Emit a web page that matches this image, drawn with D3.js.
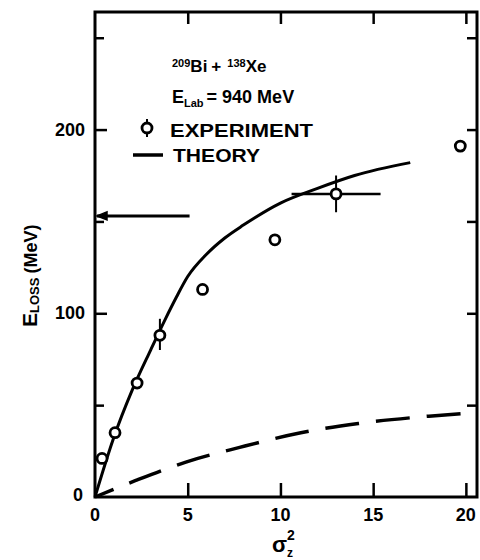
<!DOCTYPE html>
<html>
<head>
<meta charset="utf-8">
<script src="https://cdn.jsdelivr.net/npm/d3@7"></script>
<style>
  html, body { margin: 0; padding: 0; background: #fff; }
  svg { display: block; }
  text { font-family: "Liberation Sans", "DejaVu Sans", sans-serif; font-weight: bold; fill: #000; }
</style>
</head>
<body>
<svg id="chart" width="480" height="560"></svg>
<script>
// Energy loss vs. variance of the charge distribution, 209Bi + 136Xe at 940 MeV
const expSigma2 = [0.38, 1.08, 2.27, 3.5, 5.8, 9.7, 13.0, 19.7];
const expEloss  = [21, 35, 62, 88, 113, 140, 165, 191];
// error bars: [sigma2 low, sigma2 high, Eloss low, Eloss high] (null where absent)
const expErrors = [null, null, null, [3.5, 3.5, 80, 97], null, null, [10.6, 15.4, 155, 175], null];

const theorySigma2 = [0, 1, 2, 3, 3.8, 4.4, 5, 6, 7, 8, 10, 12, 14, 17];
const theoryEloss  = [0, 32, 58, 80, 97, 109, 120, 132, 141, 148, 160, 168, 175, 182];

const dashSigma2 = [0, 2.2, 4.9, 7.8, 11.1, 14.2, 18, 20.6];
const dashEloss  = [0, 9, 19, 27, 35, 40, 44, 46];

const arrowEloss = 153;
const arrowSigma2 = [0, 5.1];

const xTicks = [0, 5, 10, 15, 20];
const yMajor = [0, 100, 200];
const yMinor = [50, 150, 250];

const svg = d3.select("#chart");
const x = d3.scaleLinear().domain([0, 20.6]).range([95, 477]);
const y = d3.scaleLinear().domain([0, 264]).range([497, 12]);

const g = svg.append("g");

// frame
g.append("rect")
  .attr("x", x(0)).attr("y", y(264))
  .attr("width", x(20.6) - x(0)).attr("height", y(0) - y(264))
  .attr("fill", "none").attr("stroke", "#000").attr("stroke-width", 3);

function styleAxis(sel) {
  sel.select(".domain").remove();
  sel.selectAll("line").attr("stroke", "#000").attr("stroke-width", 2.5);
}

// bottom axis with inward ticks
g.append("g").attr("transform", `translate(0,${y(0)})`)
  .call(d3.axisBottom(x).tickValues(xTicks.filter(d => d > 0)).tickSizeInner(-14).tickSizeOuter(0).tickFormat(""))
  .call(styleAxis);

// x tick labels
g.append("g").selectAll("text").data(xTicks).join("text")
  .attr("x", d => x(d)).attr("y", y(0) + 24)
  .attr("text-anchor", "middle").attr("font-size", 18)
  .text(d => d);

// top axis
g.append("g").attr("transform", `translate(0,${y(264)})`)
  .call(d3.axisTop(x).tickValues(xTicks.filter(d => d > 0)).tickSizeInner(-12).tickSizeOuter(0).tickFormat(""))
  .call(styleAxis);

// left axis, major and minor ticks
g.append("g").attr("transform", `translate(${x(0)},0)`)
  .call(d3.axisLeft(y).tickValues(yMajor.filter(d => d > 0)).tickSizeInner(-12).tickSizeOuter(0).tickFormat(""))
  .call(styleAxis);
g.append("g").attr("transform", `translate(${x(0)},0)`)
  .call(d3.axisLeft(y).tickValues(yMinor).tickSizeInner(-9).tickSizeOuter(0).tickFormat(""))
  .call(styleAxis);

// y tick labels
g.append("g").selectAll("text").data(yMajor).join("text")
  .attr("x", d => d === 0 ? x(0) - 12 : x(0) - 10)
  .attr("y", d => y(d) + 6 - (d === 0 ? 2 : 0))
  .attr("text-anchor", "end").attr("font-size", 18)
  .text(d => d);

// right axis
g.append("g").attr("transform", `translate(${x(20.6)},0)`)
  .call(d3.axisRight(y).tickValues(yMajor.filter(d => d > 0).concat(yMinor)).tickSizeInner(-10).tickSizeOuter(0).tickFormat(""))
  .call(styleAxis);

// theory (solid)
const line = d3.line().x(d => x(d[0])).y(d => y(d[1])).curve(d3.curveMonotoneX);
g.append("path")
  .datum(d3.zip(theorySigma2, theoryEloss))
  .attr("d", line).attr("fill", "none").attr("stroke", "#000").attr("stroke-width", 3);

// dashed curve
g.append("path")
  .datum(d3.zip(dashSigma2, dashEloss))
  .attr("d", line).attr("fill", "none").attr("stroke", "#000").attr("stroke-width", 3.5)
  .attr("stroke-dasharray", "34,17").attr("stroke-dashoffset", 14);

// arrow at the left axis
g.append("line")
  .attr("x1", x(arrowSigma2[0]) + 2).attr("x2", x(arrowSigma2[1]))
  .attr("y1", y(arrowEloss)).attr("y2", y(arrowEloss))
  .attr("stroke", "#000").attr("stroke-width", 3);
g.append("path")
  .attr("d", `M${x(arrowSigma2[0]) + 2},${y(arrowEloss)} l10,-4 l0,8 z`)
  .attr("fill", "#000").attr("stroke", "#000").attr("stroke-width", 1.5);

// error bars
expErrors.forEach((e, i) => {
  if (!e) return;
  if (e[0] !== e[1]) {
    g.append("line").attr("x1", x(e[0])).attr("x2", x(e[1]))
      .attr("y1", y(expEloss[i])).attr("y2", y(expEloss[i]))
      .attr("stroke", "#000").attr("stroke-width", 2.5);
  }
  g.append("line").attr("x1", x(expSigma2[i])).attr("x2", x(expSigma2[i]))
    .attr("y1", y(e[2])).attr("y2", y(e[3]))
    .attr("stroke", "#000").attr("stroke-width", 2);
});

// experiment markers
g.append("g").selectAll("circle").data(d3.zip(expSigma2, expEloss)).join("circle")
  .attr("cx", d => x(d[0])).attr("cy", d => y(d[1])).attr("r", 5)
  .attr("fill", "#fff").attr("stroke", "#000").attr("stroke-width", 2.8);

// legend and reaction label
const leg = g.append("g");
const t1 = leg.append("text").attr("x", 172).attr("y", 72).attr("font-size", 17);
t1.append("tspan").attr("font-size", 11).attr("dy", -5).text("209");
t1.append("tspan").attr("dy", 5).text("Bi");
t1.append("tspan").attr("dx", 4).text("+");
t1.append("tspan").attr("dx", 6).attr("font-size", 11).attr("dy", -5).text("138");
t1.append("tspan").attr("dy", 5).text("Xe");

const t2 = leg.append("text").attr("x", 172).attr("y", 103).attr("font-size", 18);
t2.append("tspan").text("E");
t2.append("tspan").attr("font-size", 11).attr("dy", 4).text("Lab");
t2.append("tspan").attr("dy", -4).attr("dx", 3).text("= 940 MeV");

leg.append("line").attr("x1", 147).attr("x2", 147).attr("y1", 119).attr("y2", 137)
  .attr("stroke", "#000").attr("stroke-width", 2);
leg.append("circle").attr("cx", 147).attr("cy", 128).attr("r", 5)
  .attr("fill", "#fff").attr("stroke", "#000").attr("stroke-width", 2.8);
leg.append("text").attr("x", 170).attr("y", 137).attr("font-size", 18)
  .attr("textLength", 143).attr("lengthAdjust", "spacingAndGlyphs").text("EXPERIMENT");

leg.append("line").attr("x1", 133).attr("x2", 163).attr("y1", 155).attr("y2", 155)
  .attr("stroke", "#000").attr("stroke-width", 3.5);
leg.append("text").attr("x", 173).attr("y", 162).attr("font-size", 18)
  .attr("textLength", 87).attr("lengthAdjust", "spacingAndGlyphs").text("THEORY");

// axis titles
const xt = g.append("text").attr("x", 272).attr("y", 552).attr("font-size", 22);
xt.append("tspan").text("σ");
xt.append("tspan").attr("font-size", 12).attr("dy", 5).text("z");
xt.append("tspan").attr("font-size", 14).attr("dy", -17).attr("dx", -6).text("2");

const yt = g.append("text")
  .attr("transform", "translate(37,327) rotate(-90)")
  .attr("font-size", 18);
yt.append("tspan").attr("font-size", 21).text("E");
yt.append("tspan").attr("font-size", 13).attr("dy", 2).text("LOSS");
yt.append("tspan").attr("dy", -2).attr("dx", 4).text("(MeV)");
</script>
</body>
</html>
